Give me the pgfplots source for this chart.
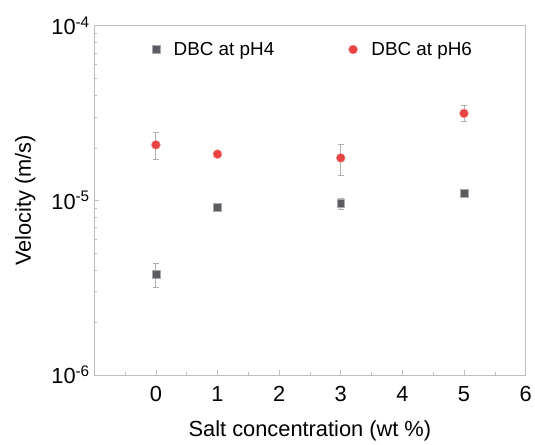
\documentclass[border=0pt]{standalone}
\usepackage{pgfplots}
\pgfplotsset{compat=1.18}
\usepackage{fontspec}
\setmainfont{Liberation Sans}
\definecolor{sqfill}{RGB}{92,93,98}
\definecolor{sqedge}{RGB}{170,170,172}
\definecolor{cfill}{RGB}{234,66,66}
\definecolor{cedge}{RGB}{235,150,150}
\definecolor{errc}{RGB}{175,175,175}
\definecolor{axc}{RGB}{190,190,190}
\begin{document}
\begin{tikzpicture}
\begin{axis}[
  scale only axis, width=435pt, height=352pt,
  xmin=-1, xmax=6, ymode=log, ymin=1e-6, ymax=1e-4,
  xtick={0,1,2,3,4,5,6},
  minor xtick={-0.5,0.5,1.5,2.5,3.5,4.5,5.5},
  ytick={1e-6,1e-5,1e-4},
  yticklabels={10\textsuperscript{-6},10\textsuperscript{-5},10\textsuperscript{-4}},
  minor ytick={2e-6,3e-6,4e-6,5e-6,6e-6,7e-6,8e-6,9e-6,2e-5,3e-5,4e-5,5e-5,6e-5,7e-5,8e-5,9e-5},
  tick align=inside, xtick pos=bottom, ytick pos=left,
  axis line style={axc, line width=0.7pt},
  every tick/.style={axc, line width=0.6pt},
  major tick length=5pt, minor tick length=3pt,
  tick label style={font=\fontsize{22}{26}\selectfont},
  xticklabel style={yshift=-8pt},
  yticklabel style={xshift=-1pt},
  /pgf/number format/assume math mode=true,
  xlabel={Salt concentration (wt \%)},
  ylabel={Velocity (m/s)},
  label style={font=\fontsize{22}{26}\selectfont},
  xlabel style={at={(axis description cs:0.5,-0.16)}, anchor=center},
  ylabel style={at={(axis description cs:-0.16,0.5)}, anchor=center},
  legend style={at={(axis description cs:0.507,0.965)}, anchor=north, draw=none, fill=none,
    font=\fontsize{19}{22}\selectfont, legend columns=2,
    /tikz/every even column/.append style={column sep=73pt}},
  legend cell align=left,
  error bars/error bar style={errc, line width=0.7pt},
  error bars/error mark options={rotate=90, mark size=3pt, errc, line width=0.7pt},
]
\addplot[only marks, mark=square*, mark size=4pt, mark options={fill=sqfill, draw=sqedge, line width=0.5pt},
  error bars/.cd, y dir=both, y explicit]
  table[x=x, y=y, y error plus=ep, y error minus=em] {
x y ep em
0 3.77e-6 0.56e-6 0.58e-6
1 9.16e-6 0.2e-6 0.2e-6
3 9.58e-6 0.72e-6 0.65e-6
5 1.096e-5 0.03e-5 0.03e-5
};
\addlegendentry{\hspace{12pt}DBC at pH4}
\addplot[only marks, mark=*, mark size=4.5pt, mark options={fill=cfill, draw=cedge, line width=0.5pt},
  error bars/.cd, y dir=both, y explicit]
  table[x=x, y=y, y error plus=ep, y error minus=em] {
x y ep em
0 2.08e-5 0.38e-5 0.36e-5
1 1.84e-5 0.08e-5 0.08e-5
3 1.75e-5 0.35e-5 0.36e-5
5 3.15e-5 0.36e-5 0.33e-5
};
\addlegendentry{\hspace{12pt}DBC at pH6}
\end{axis}
\path ([xshift=-95pt,yshift=-62pt]current axis.south west) ([xshift=5pt,yshift=26pt]current axis.north east);
\end{tikzpicture}
\end{document}
